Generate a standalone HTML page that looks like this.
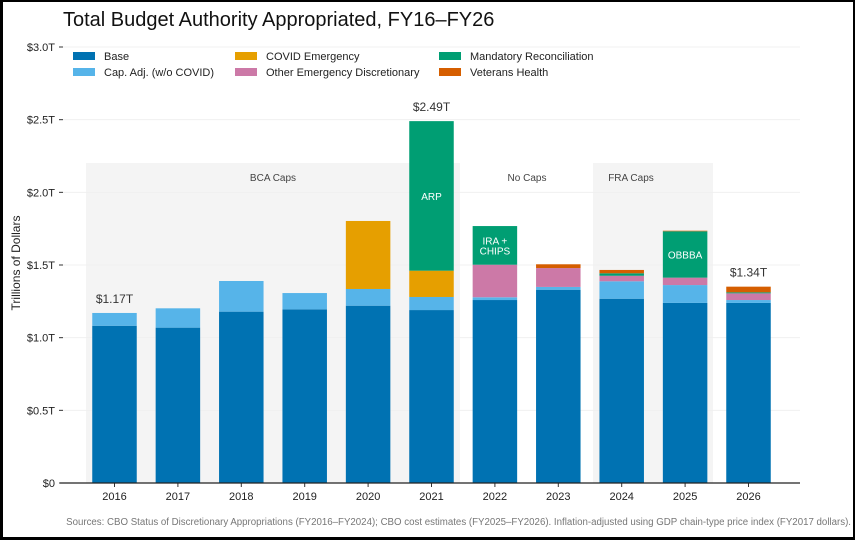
<!DOCTYPE html>
<html><head><meta charset="utf-8"><style>
html,body{margin:0;padding:0;background:#fff}
#wrap{position:relative;width:855px;height:540px;box-sizing:border-box;border:2px solid #000;border-left-width:3px;border-bottom-width:3px;background:#fff;overflow:hidden}
svg{position:absolute;left:-3px;top:-2px}
text{font-family:"Liberation Sans",sans-serif}
</style></head><body>
<div id="wrap">
<svg id="chart" width="855" height="540"></svg>
</div>
<script>
const years=["2016","2017","2018","2019","2020","2021","2022","2023","2024","2025","2026"];
const base=[1.082,1.069,1.179,1.195,1.22,1.19,1.259,1.33,1.268,1.239,1.239];
const capAdj=[0.088,0.133,0.211,0.112,0.115,0.09,0.019,0.019,0.12,0.123,0.02];
const covid=[0,0,0,0,0.468,0.181,0,0,0,0,0];
const otherEm=[0,0,0,0,0,0,0.224,0.13,0.038,0.051,0.046];
const mandatory=[0,0,0,0,0,1.029,0.266,0,0.017,0.319,0.007];
const veterans=[0,0,0,0,0,0,0,0.026,0.023,0.004,0.039];
const yTicks=[0,0.5,1.0,1.5,2.0,2.5,3.0];
const yTickLabels=["$0","$0.5T","$1.0T","$1.5T","$2.0T","$2.5T","$3.0T"];
const totalLabels=[{i:0,t:"$1.17T"},{i:5,t:"$2.49T"},{i:10,t:"$1.34T"}];
const seriesNames=["Base","Cap. Adj. (w/o COVID)","COVID Emergency","Other Emergency Discretionary","Mandatory Reconciliation","Veterans Health"];
const colors=["#0072b2","#56b4e9","#e69f00","#cc79a7","#009e73","#d55e00"];
const series=[base,capAdj,covid,otherEm,mandatory,veterans];

const NS="http://www.w3.org/2000/svg";
const svg=document.getElementById('chart');
function el(tag,attrs,txt){const e=document.createElementNS(NS,tag);for(const k in attrs)e.setAttribute(k,attrs[k]);if(txt!==undefined)e.textContent=txt;svg.appendChild(e);return e;}
const y0=483,pxPerT=145.33;
function Y(v){return y0-v*pxPerT;}
function X(i){return 114.5+i*63.4;}
const bw=44.5;

let e;
e=el('text',{x:63,y:26,'font-size':20,fill:'#111'},"Total Budget Authority Appropriated, FY16–FY26");



const regions=[{a:86,b:460},{a:593,b:713}];
regions.forEach(r=>{
 e=el('rect',{x:r.a,y:163,width:r.b-r.a,height:y0-163,fill:'#f4f4f4'});
 
 
});
[["BCA Caps",273],["No Caps",527],["FRA Caps",631]].forEach(l=>{
 e=el('text',{x:l[1],y:181,'font-size':10,fill:'#444','text-anchor':'middle'},l[0]);
 
 
});

yTicks.forEach((v,k)=>{
 if(v>0){e=el('line',{x1:63,x2:800,y1:Y(v),y2:Y(v),stroke:'#f0f0f0','stroke-width':1});
 
 }
 e=el('line',{x1:59,x2:63,y1:Y(v),y2:Y(v),stroke:'#333','stroke-width':1});
 
 
 e=el('text',{x:55,y:Y(v)+4,'font-size':11,fill:'#222','text-anchor':'end'},yTickLabels[k]);
 
 
});
e=el('text',{x:20,y:263,'font-size':12,fill:'#222','text-anchor':'middle',transform:'rotate(-90 20 263)'},"Trillions of Dollars");



years.forEach((yr,i)=>{
 let cum=0;
 series.forEach((s,k)=>{
  const v=s[i]; if(v<=0) return;
  e=el('rect',{x:X(i)-bw/2,y:Y(cum+v),width:bw,height:v*pxPerT,fill:colors[k]});
  
  
  cum+=v;
 });
 e=el('line',{x1:X(i),x2:X(i),y1:y0,y2:y0+4,stroke:'#333'});
 
 
 e=el('text',{x:X(i),y:500,'font-size':11,fill:'#222','text-anchor':'middle'},yr);
 
 
});
e=el('line',{x1:60,x2:800,y1:y0,y2:y0,stroke:'#222','stroke-width':1.2});



function total(i){return series.reduce((a,s)=>a+s[i],0);}
totalLabels.forEach(t=>{
 e=el('text',{x:X(t.i),y:Y(total(t.i))-10,'font-size':12,fill:'#333','text-anchor':'middle'},t.t);
 
 
});
function midMand(i){const below=base[i]+capAdj[i]+covid[i]+otherEm[i];return Y(below+mandatory[i]/2);}
[[5,["ARP"],1],[6,["IRA +","CHIPS"],0],[9,["OBBBA"],0]].forEach(a=>{
 const i=a[0],lines=a[1];
 let cy=a[2]?196:midMand(i);
 lines.forEach((ln,j)=>{
  e=el('text',{x:X(i),y:cy+4+(j-(lines.length-1)/2)*10,'font-size':10,fill:'#fff','text-anchor':'middle'},ln);
  
  
 });
});

const legPos=[[73,56],[73,72],[235,56],[235,72],[439,56],[439,72]];
seriesNames.forEach((n,k)=>{
 e=el('rect',{x:legPos[k][0],y:legPos[k][1]-4,width:22,height:8,fill:colors[k]});
 
 
 e=el('text',{x:legPos[k][0]+31,y:legPos[k][1]+4,'font-size':11,fill:'#222'},n);
 
 
});

e=el('text',{x:851,y:525,'font-size':9.7,fill:'#777','text-anchor':'end'},"Sources: CBO Status of Discretionary Appropriations (FY2016–FY2024); CBO cost estimates (FY2025–FY2026). Inflation-adjusted using GDP chain-type price index (FY2017 dollars).");


</script>
</body></html>
